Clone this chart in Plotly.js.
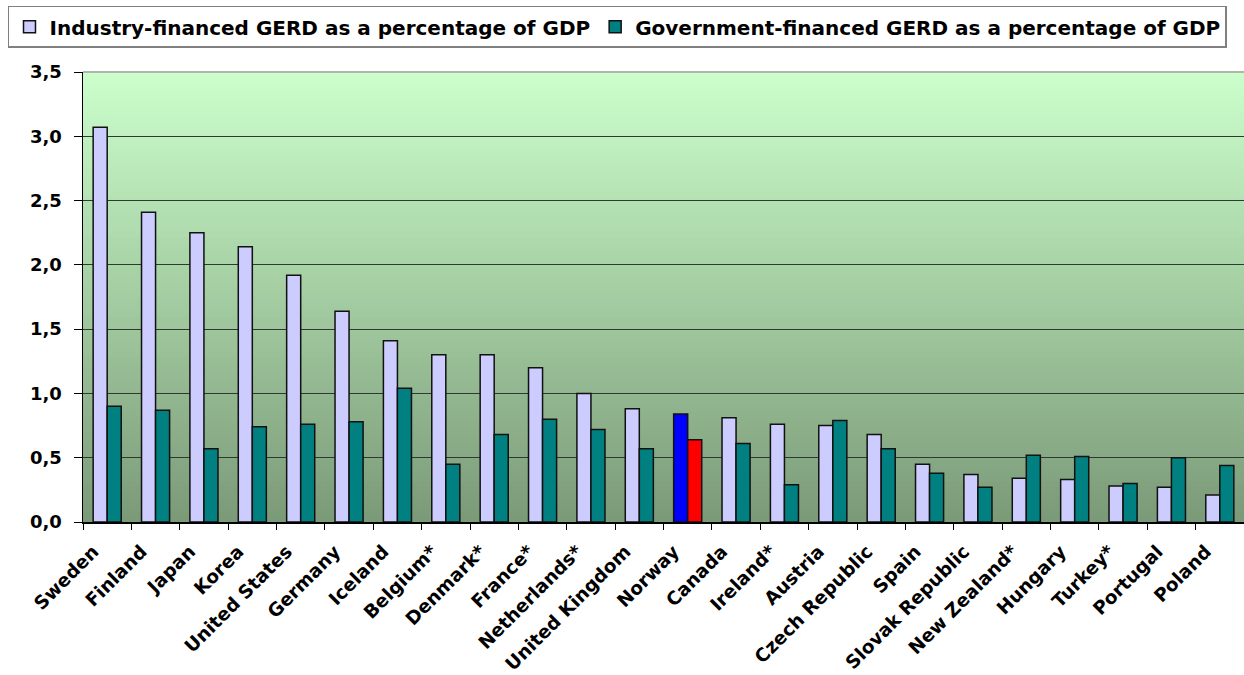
<!DOCTYPE html>
<html>
<head>
<meta charset="utf-8">
<script src="https://cdn.plot.ly/plotly-3.0.1.min.js"></script>
<style>
  html, body { margin: 0; padding: 0; background: #ffffff; }
  #chart { width: 1244px; height: 675px; }
</style>
</head>
<body>
<div id="chart"></div>
<script>
// ---- Data ----
var categories = ['Sweden', 'Finland', 'Japan', 'Korea', 'United States', 'Germany', 'Iceland',
  'Belgium*', 'Denmark*', 'France*', 'Netherlands*', 'United Kingdom', 'Norway', 'Canada',
  'Ireland*', 'Austria', 'Czech Republic', 'Spain', 'Slovak Republic', 'New Zealand*',
  'Hungary', 'Turkey*', 'Portugal', 'Poland'];
var industryFinanced = [3.07, 2.41, 2.25, 2.14, 1.92, 1.64, 1.41, 1.30, 1.30, 1.20, 1.00, 0.88,
  0.84, 0.81, 0.76, 0.75, 0.68, 0.45, 0.37, 0.34, 0.33, 0.28, 0.27, 0.21];
var governmentFinanced = [0.90, 0.87, 0.57, 0.74, 0.76, 0.78, 1.04, 0.45, 0.68, 0.80, 0.72, 0.57,
  0.64, 0.61, 0.29, 0.79, 0.57, 0.38, 0.27, 0.52, 0.51, 0.30, 0.50, 0.44];
var seriesNames = ['Industry-financed GERD as a percentage of GDP',
  'Government-financed GERD as a percentage of GDP'];
var highlightCategory = 'Norway';

// ---- Styles ----
var FONT = 'DejaVu Sans, Arial, sans-serif';
var industryColor = '#CCCCFF', governmentColor = '#008080';
var highlightIndustry = '#0000FF', highlightGovernment = '#FF0000';

var industryColors = categories.map(function (c) { return c === highlightCategory ? highlightIndustry : industryColor; });
var governmentColors = categories.map(function (c) { return c === highlightCategory ? highlightGovernment : governmentColor; });

var traces = [
  {
    type: 'bar', name: seriesNames[0], x: categories, y: industryFinanced,
    marker: { color: industryColors, line: { color: '#111111', width: 1.5 } },
    hoverinfo: 'x+y'
  },
  {
    type: 'bar', name: seriesNames[1], x: categories, y: governmentFinanced,
    marker: { color: governmentColors, line: { color: '#111111', width: 1.5 } },
    hoverinfo: 'x+y'
  }
];

// Vertical gradient background of the plot area, built from thin stripes
function hexToRgb(h) { return [parseInt(h.substr(1,2),16), parseInt(h.substr(3,2),16), parseInt(h.substr(5,2),16)]; }
var topCol = hexToRgb('#CCFFCC'), botCol = hexToRgb('#7B9A78');
var shapes = [];
var N = 90;
for (var i = 0; i < N; i++) {
  var t = (i + 0.5) / N; // 0 bottom -> 1 top
  var c = [0,1,2].map(function (k) { return Math.round(botCol[k] + (topCol[k] - botCol[k]) * t); });
  shapes.push({
    type: 'rect', xref: 'paper', yref: 'paper', layer: 'below',
    x0: 0, x1: 1, y0: i / N, y1: (i + 1) / N + 0.002,
    fillcolor: 'rgb(' + c.join(',') + ')', line: { width: 0 }
  });
}
shapes.push({
  type: 'line', xref: 'paper', yref: 'paper', layer: 'above',
  x0: 0, x1: 1, y0: 1, y1: 1, line: { color: '#A0A0A0', width: 1.5 }
});

var layout = {
  width: 1244, height: 675,
  margin: { l: 83, r: 0, t: 72, b: 153 },
  paper_bgcolor: '#ffffff',
  plot_bgcolor: 'rgba(0,0,0,0)',
  separators: ',.',
  font: { family: FONT, color: '#000000', weight: 'bold' },
  barmode: 'group', bargap: 0.42, bargroupgap: 0,
  showlegend: true,
  legend: {
    orientation: 'h', x: -0.0646, xanchor: 'left', y: 1.147, yanchor: 'top',
    bgcolor: '#ffffff', bordercolor: '#808080', borderwidth: 1.5,
    font: { family: FONT, size: 20, color: '#000000', weight: 'bold' },
    itemclick: false, itemdoubleclick: false, traceorder: 'normal'
  },
  xaxis: {
    type: 'category', tickangle: -45, tickson: 'boundaries',
    ticks: 'outside', ticklen: 6, tickcolor: '#000000', tickwidth: 1,
    showline: true, linecolor: '#000000', linewidth: 1.5,
    showgrid: false, zeroline: false, automargin: false,
    ticklabelshift: -14, ticklabelstandoff: 10,
    tickfont: { family: FONT, size: 18.5, color: '#000000', weight: 'bold' }
  },
  yaxis: {
    range: [0, 3.5], dtick: 0.5, tick0: 0, tickformat: '.1f',
    ticks: 'outside', ticklen: 8, tickcolor: '#000000', tickwidth: 1,
    showline: true, linecolor: '#000000', linewidth: 1.5,
    showgrid: true, gridcolor: '#2f3a2f', gridwidth: 1,
    zeroline: false, automargin: false, ticklabelstandoff: 8,
    tickfont: { family: FONT, size: 18, color: '#000000', weight: 'bold' }
  },
  shapes: shapes
};

Plotly.newPlot('chart', traces, layout, { staticPlot: true, displayModeBar: false });
</script>
</body>
</html>
